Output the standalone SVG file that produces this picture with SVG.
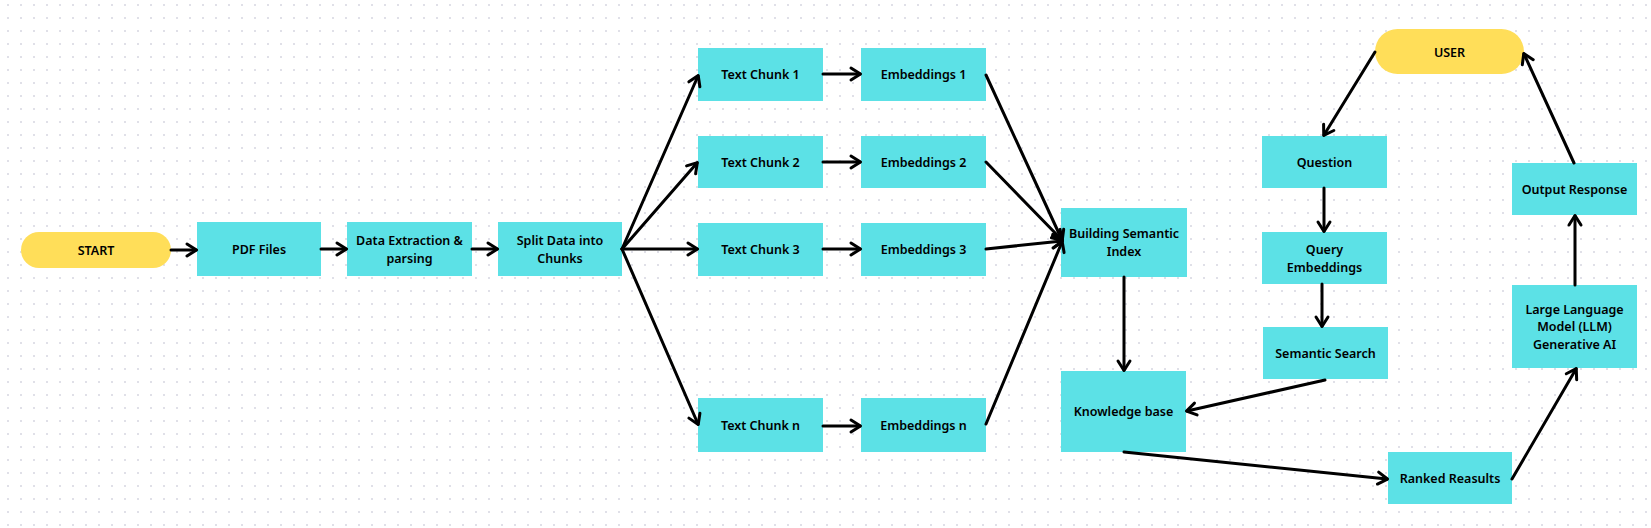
<svg xmlns="http://www.w3.org/2000/svg" width="1651" height="528" viewBox="0 0 1651 528">
  <defs>
    <pattern id="dots" x="7" y="4" width="13" height="13" patternUnits="userSpaceOnUse">
      <rect x="0" y="0" width="2" height="2" fill="#e0e0e8"/>
    </pattern>
    <marker id="arr" viewBox="-2 -2 16 16" refX="9" refY="6" markerWidth="16" markerHeight="16" markerUnits="userSpaceOnUse" orient="auto" overflow="visible">
      <path d="M0,0 L9.5,6 L0,12" fill="none" stroke="#000" stroke-width="3" stroke-linecap="round" stroke-linejoin="round"/>
    </marker>
    <style>
      .box { fill: #5ce1e6; }
      .pill { fill: #ffde59; }
      .lbl { font-family: "Noto Sans", "Open Sans", sans-serif; font-weight: 600; font-size: 12.5px; fill: #000; text-anchor: middle; dominant-baseline: central; }
      .con { fill: none; stroke: #000; stroke-width: 3; stroke-linecap: round; marker-end: url(#arr); }
    </style>
  </defs>
  <rect width="1651" height="528" fill="#ffffff"/>
  <rect width="1651" height="528" fill="url(#dots)"/>

  <g id="start"><rect class="pill" x="21" y="232" width="150" height="36" rx="18"/><text class="lbl" x="96" y="250">START</text></g>
  <g id="pdf"><rect class="box" x="197" y="222" width="124" height="54"/><text class="lbl" x="259" y="249">PDF Files</text></g>
  <g id="extract"><rect class="box" x="347" y="222" width="125" height="54"/><text class="lbl" x="409.5" y="240">Data Extraction &amp;</text><text class="lbl" x="409.5" y="258">parsing</text></g>
  <g id="split"><rect class="box" x="498" y="222" width="124" height="54"/><text class="lbl" x="560" y="240">Split Data into</text><text class="lbl" x="560" y="258">Chunks</text></g>

  <g id="tc1"><rect class="box" x="698" y="48" width="125" height="53"/><text class="lbl" x="760.5" y="74.5">Text Chunk 1</text></g>
  <g id="tc2"><rect class="box" x="698" y="136" width="125" height="52"/><text class="lbl" x="760.5" y="162">Text Chunk 2</text></g>
  <g id="tc3"><rect class="box" x="698" y="223" width="125" height="53"/><text class="lbl" x="760.5" y="249.5">Text Chunk 3</text></g>
  <g id="tcn"><rect class="box" x="698" y="398" width="125" height="54"/><text class="lbl" x="760.5" y="425">Text Chunk n</text></g>

  <g id="em1"><rect class="box" x="861" y="48" width="125" height="53"/><text class="lbl" x="923.5" y="74.5">Embeddings 1</text></g>
  <g id="em2"><rect class="box" x="861" y="136" width="125" height="52"/><text class="lbl" x="923.5" y="162">Embeddings 2</text></g>
  <g id="em3"><rect class="box" x="861" y="223" width="125" height="53"/><text class="lbl" x="923.5" y="249.5">Embeddings 3</text></g>
  <g id="emn"><rect class="box" x="861" y="398" width="125" height="54"/><text class="lbl" x="923.5" y="425">Embeddings n</text></g>

  <g id="index"><rect class="box" x="1061" y="208" width="126" height="69"/><text class="lbl" x="1124" y="233.5">Building Semantic</text><text class="lbl" x="1124" y="251.5">Index</text></g>
  <g id="kb"><rect class="box" x="1061" y="371" width="125" height="81"/><text class="lbl" x="1123.5" y="411.5">Knowledge base</text></g>

  <g id="user"><rect class="pill" x="1375" y="29" width="149" height="45" rx="22.5"/><text class="lbl" x="1449.5" y="52">USER</text></g>
  <g id="question"><rect class="box" x="1262" y="136" width="125" height="52"/><text class="lbl" x="1324.5" y="162">Question</text></g>
  <g id="query"><rect class="box" x="1262" y="232" width="125" height="52"/><text class="lbl" x="1324.5" y="249">Query</text><text class="lbl" x="1324.5" y="267">Embeddings</text></g>
  <g id="search"><rect class="box" x="1263" y="327" width="125" height="52"/><text class="lbl" x="1325.5" y="353">Semantic Search</text></g>
  <g id="ranked"><rect class="box" x="1388" y="452" width="124" height="52"/><text class="lbl" x="1450" y="478">Ranked Reasults</text></g>
  <g id="llm"><rect class="box" x="1512" y="285" width="125" height="83"/><text class="lbl" x="1574.5" y="309">Large Language</text><text class="lbl" x="1574.5" y="326.5">Model (LLM)</text><text class="lbl" x="1574.5" y="344">Generative AI</text></g>
  <g id="output"><rect class="box" x="1512" y="163" width="125" height="52"/><text class="lbl" x="1574.5" y="189">Output Response</text></g>

  <g id="connectors">
    <path class="con" d="M171,250 L196,250"/>
    <path class="con" d="M321,249 L346,249"/>
    <path class="con" d="M472,249 L497,249"/>
    <path class="con" d="M622,249 L698,76"/>
    <path class="con" d="M622,249 L697,163"/>
    <path class="con" d="M622,249 L697,249"/>
    <path class="con" d="M622,249 L698,424"/>
    <path class="con" d="M823,74 L860,74"/>
    <path class="con" d="M823,162 L860,162"/>
    <path class="con" d="M823,249 L860,249"/>
    <path class="con" d="M823,426 L860,426"/>
    <path class="con" d="M986,75 L1062,240"/>
    <path class="con" d="M986,162 L1062,240"/>
    <path class="con" d="M986,249 L1062,241"/>
    <path class="con" d="M986,424 L1062,242"/>
    <path class="con" d="M1124,277 L1124,370"/>
    <path class="con" d="M1375,52 L1324,135"/>
    <path class="con" d="M1324,188 L1324,231"/>
    <path class="con" d="M1322,284 L1322,326"/>
    <path class="con" d="M1325,380 L1187,411"/>
    <path class="con" d="M1124,452 L1387,479"/>
    <path class="con" d="M1512,479 L1576,369"/>
    <path class="con" d="M1575,285 L1575,216"/>
    <path class="con" d="M1574,163 L1524,54"/>
  </g>
</svg>
